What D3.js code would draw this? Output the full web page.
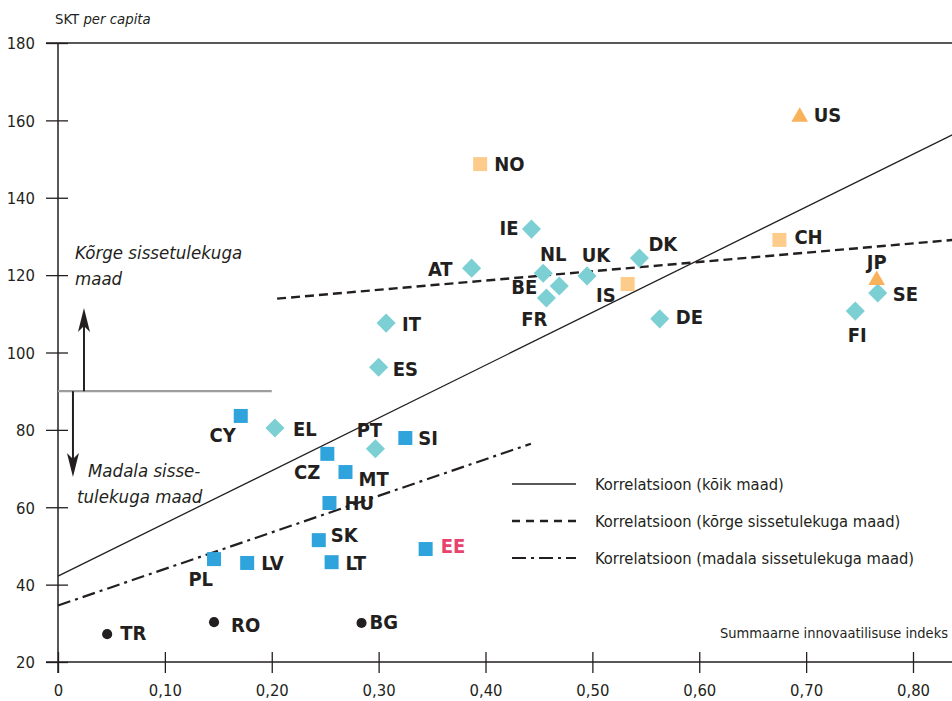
<!DOCTYPE html>
<html>
<head>
<meta charset="utf-8">
<script src="https://cdn.jsdelivr.net/npm/d3@7"></script>
<style>
  body { margin: 0; background: #fff; }
  svg { display: block; font-family: "DejaVu Sans Condensed", "Liberation Sans", sans-serif; }
</style>
</head>
<body>
<div class="chart"></div>
<script>
// values
const countries = ["CY","CZ","MT","SI","HU","SK","LV","LT","PL","EE",
                   "EL","PT","ES","IT","AT","IE","NL","BE","FR","UK","DK","DE","FI","SE",
                   "NO","IS","CH","US","JP","TR","RO","BG"];
const innovIndex = [0.171,0.252,0.269,0.325,0.254,0.244,0.177,0.256,0.146,0.344,
                    0.203,0.297,0.300,0.307,0.387,0.443,0.454,0.469,0.457,0.495,0.544,0.563,0.746,0.767,
                    0.395,0.533,0.675,0.694,0.766,0.046,0.146,0.284];
const gdpPerCap = [83.6,73.8,69.1,77.9,61.1,51.5,45.6,45.8,46.6,49.2,
                   80.5,75.1,96.2,107.6,121.8,131.9,120.5,117.2,114.1,119.8,124.4,108.7,110.7,115.4,
                   148.7,117.7,129.1,160.9,118.7,27.2,30.3,30.1];
const groupOf = ["new","new","new","new","new","new","new","new","new","ee",
                 "old","old","old","old","old","old","old","old","old","old","old","old","old","old",
                 "efta","efta","efta","tri","tri","cand","cand","cand"];

const xTicks = [0, 0.1, 0.2, 0.3, 0.4, 0.5, 0.6, 0.7, 0.8];
const yTicks = [20, 40, 60, 80, 100, 120, 140, 160, 180];
const incomeSplit = 90;

// regression lines: intercept, slope, x range
const trendNames = ["Korrelatsioon (kõik maad)", "Korrelatsioon (kõrge sissetulekuga maad)", "Korrelatsioon (madala sissetulekuga maad)"];
const trendIntercept = [42.2, 109.0, 34.6];
const trendSlope = [136.3, 24.0, 94.5];
const trendFrom = [0, 0.205, 0];
const trendTo = [0.9, 0.9, 0.4425];

// label placement relative to the marker: dx, dy, anchor
const labelPos = {
  CY: [-5, 26, "end"], CZ: [-7, 25, "end"], MT: [13, 14, "start"], SI: [13, 7, "start"],
  HU: [15, 7, "start"], SK: [12, 2, "start"], LV: [14, 7, "start"], LT: [14, 8, "start"],
  PL: [-1, 27, "end"], EE: [15, 4, "start"], EL: [18, 8, "start"], PT: [-6, -12, "middle"],
  ES: [14, 9, "start"], IT: [16, 8, "start"], AT: [-19, 8, "end"], IE: [-13, 6, "end"],
  NL: [10, -12, "middle"], BE: [-22, 8, "end"], FR: [-12, 28, "middle"], UK: [9, -14, "middle"],
  DK: [9, -7, "start"], DE: [16, 5, "start"], FI: [2, 31, "middle"], SE: [15, 8, "start"],
  NO: [14, 7, "start"], IS: [-12, 18, "end"], CH: [15, 4, "start"], US: [14, 5, "start"],
  JP: [0, -11, "middle"], TR: [13, 6, "start"], RO: [17, 10, "start"], BG: [8, 6, "start"]
};

const ink = "#231f20";
const groupStyle = {
  new:  { sym: d3.symbolSquare, size: 196, rot: 0, fill: "#2fa3dc" },
  ee:   { sym: d3.symbolSquare, size: 196, rot: 0, fill: "#2fa3dc" },
  old:  { sym: d3.symbolSquare, size: 182, rot: 45, fill: "#7ccfd3" },
  efta: { sym: d3.symbolSquare, size: 196, rot: 0, fill: "#fdcc8b" },
  tri:  { sym: d3.symbolTriangle, size: 120, rot: 0, fill: "#f9b15a" },
  cand: { sym: d3.symbolCircle, size: 80, rot: 0, fill: ink }
};

const svgW = 952, svgH = 701;

const xScale = d3.scaleLinear().domain([0, 0.8]).range([58, 913]);
const yScale = d3.scaleLinear().domain([20, 180]).range([662, 43]);

const svg = d3.select(".chart").append("svg")
  .attr("width", svgW).attr("height", svgH);

const fmtX = v => v === 0 ? "0" : v.toFixed(2).replace(".", ",");

// x axis
const xAxis = svg.append("g")
  .attr("transform", `translate(0, ${yScale(20)})`)
  .call(d3.axisBottom(xScale).tickValues(xTicks).tickSize(11).tickFormat(fmtX));
xAxis.select(".domain").remove();
xAxis.selectAll(".tick line").attr("y1", -10).attr("stroke", ink).attr("stroke-width", 1.3);
xAxis.selectAll(".tick text")
  .attr("y", 34).attr("dy", 0)
  .style("font-size", "16.5px").style("font-family", "DejaVu Sans Condensed").attr("fill", ink);

// y axis
const yAxis = svg.append("g")
  .attr("transform", `translate(${xScale(0)}, 0)`)
  .call(d3.axisLeft(yScale).tickValues(yTicks).tickSize(12));
yAxis.select(".domain").remove();
yAxis.selectAll(".tick line").attr("x1", 10).attr("stroke", ink).attr("stroke-width", 1.3);
yAxis.selectAll(".tick text")
  .attr("x", -23).attr("dy", "0.35em")
  .style("font-size", "16.5px").style("font-family", "DejaVu Sans Condensed").attr("fill", ink);

// frame lines
svg.append("line")
  .attr("x1", xScale(0)).attr("x2", xScale(0))
  .attr("y1", yScale(180)).attr("y2", yScale(20) + 11)
  .attr("stroke", ink).attr("stroke-width", 1.5);
svg.append("line")
  .attr("x1", xScale(0) - 12).attr("x2", svgW)
  .attr("y1", yScale(20)).attr("y2", yScale(20))
  .attr("stroke", ink).attr("stroke-width", 1.5);
svg.append("line")
  .attr("x1", xScale(0) - 12).attr("x2", svgW)
  .attr("y1", yScale(180)).attr("y2", yScale(180))
  .attr("stroke", ink).attr("stroke-width", 1.3);

// axis titles
const yTitle = svg.append("text")
  .attr("x", 55).attr("y", 24)
  .style("font-size", "14.8px").attr("fill", ink);
yTitle.append("tspan").text("SKT ");
yTitle.append("tspan").text("per capita").style("font-style", "italic");

svg.append("text")
  .attr("x", 948).attr("y", 638)
  .attr("text-anchor", "end")
  .style("font-size", "14.5px").attr("fill", ink)
  .text("Summaarne innovaatilisuse indeks");

// income split line and arrows
const ySplit = yScale(incomeSplit);
svg.append("line")
  .attr("x1", xScale(0)).attr("x2", xScale(0.2))
  .attr("y1", ySplit).attr("y2", ySplit)
  .attr("stroke", "#9d9d9d").attr("stroke-width", 2.2);

function arrow(xv, yFrom, yTo) {
  const x = xScale(xv);
  const dir = yTo < yFrom ? -1 : 1;
  svg.append("line")
    .attr("x1", x).attr("x2", x)
    .attr("y1", yFrom).attr("y2", yTo - dir * 12)
    .attr("stroke", ink).attr("stroke-width", 2);
  svg.append("path")
    .attr("d", `M${x},${yTo} L${x - 6},${yTo - dir * 24} L${x},${yTo - dir * 18} L${x + 6},${yTo - dir * 24} Z`)
    .attr("fill", ink);
}
arrow(0.0243, ySplit, yScale(111.5));
arrow(0.014, ySplit, yScale(67.8));

const noteStyle = t => t.style("font-size", "18.5px").style("font-style", "italic").attr("fill", ink);
svg.append("text").attr("x", 75).attr("y", 259).text("Kõrge sissetulekuga").call(noteStyle);
svg.append("text").attr("x", 75).attr("y", 285).text("maad").call(noteStyle);
svg.append("text").attr("x", 88).attr("y", 477).text("Madala sisse-").call(noteStyle);
svg.append("text").attr("x", 77).attr("y", 503).text("tulekuga maad").call(noteStyle);

// regression lines
const dashes = [null, "9,5", "13,5,3,5"];
const widths = [1.3, 2.4, 2.2];
const line = d3.line().x(d => xScale(d[0])).y(d => yScale(d[1]));
trendNames.forEach((name, i) => {
  const pts = [trendFrom[i], trendTo[i]].map(v => [v, trendIntercept[i] + trendSlope[i] * v]);
  svg.append("path")
    .attr("d", line(pts))
    .attr("fill", "none")
    .attr("stroke", ink)
    .attr("stroke-width", widths[i])
    .attr("stroke-dasharray", dashes[i]);
});

// legend
const legend = svg.append("g").attr("transform", "translate(512, 484)");
trendNames.forEach((name, i) => {
  const g = legend.append("g").attr("transform", `translate(0, ${i * 37})`);
  g.append("line")
    .attr("x1", 0).attr("x2", 64).attr("y1", 0).attr("y2", 0)
    .attr("stroke", ink).attr("stroke-width", widths[i])
    .attr("stroke-dasharray", i === 2 ? "14,5,3,5" : (i === 1 ? "8,6" : null));
  g.append("text")
    .attr("x", 83).attr("y", 6)
    .style("font-size", "16.4px").attr("fill", ink)
    .text(name);
});

// points
const points = countries.map((c, i) => ({ c, x: innovIndex[i], y: gdpPerCap[i], g: groupOf[i] }));

svg.append("g").selectAll("path")
  .data(points)
  .join("path")
  .attr("transform", d => `translate(${xScale(d.x)}, ${yScale(d.y)}) rotate(${groupStyle[d.g].rot})`)
  .attr("d", d => d3.symbol(groupStyle[d.g].sym, groupStyle[d.g].size)())
  .attr("fill", d => groupStyle[d.g].fill);

svg.append("g").selectAll("text")
  .data(points)
  .join("text")
  .attr("x", d => xScale(d.x) + labelPos[d.c][0])
  .attr("y", d => yScale(d.y) + labelPos[d.c][1])
  .attr("text-anchor", d => labelPos[d.c][2])
  .style("font-size", "20px")
  .style("font-weight", "bold")
  .attr("fill", d => d.g === "ee" ? "#e8436d" : ink)
  .text(d => d.c);
</script>
</body>
</html>
